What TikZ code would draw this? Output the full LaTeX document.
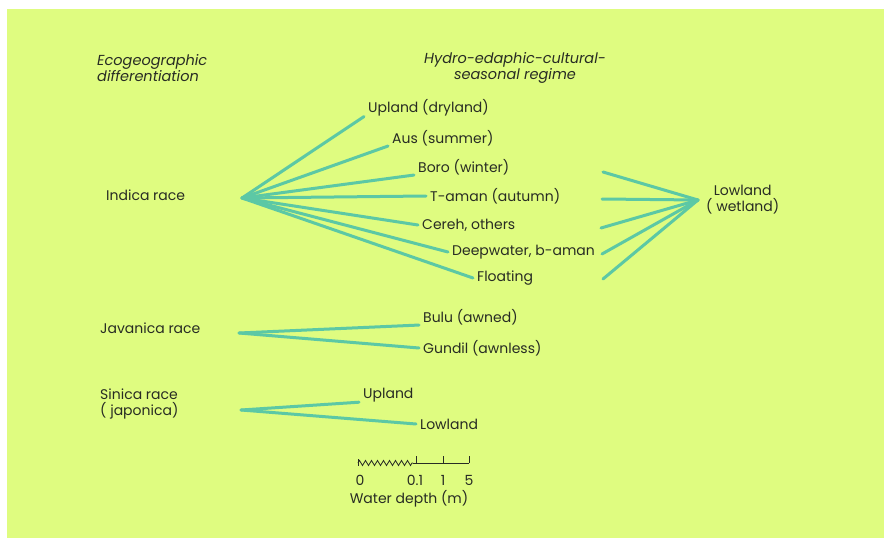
\documentclass[tikz,border=0pt]{standalone}
\usepackage{fontspec}
\setmainfont{Poppins}
\usetikzlibrary{decorations.pathmorphing}
\definecolor{fondo}{RGB}{223,252,128}
\definecolor{rama}{RGB}{92,200,165}
\definecolor{letra}{RGB}{40,44,36}
\begin{document}
\begin{tikzpicture}[x=1pt,y=-1pt,
		rama/.style={draw=rama, line width=3pt, line cap=round},
		etiq/.style={anchor=west, inner xsep=4pt, inner ysep=0pt, text=letra, font=\fontsize{14}{16}\selectfont},
		titulo/.style={inner sep=0pt, text=letra, font=\fontsize{14.5}{16}\selectfont\itshape},
		cifra/.style={inner sep=0pt, text=letra, font=\fontsize{14}{16}\selectfont},
		escala/.style={draw=letra, line width=0.8pt}]
			% Fondo
				\useasboundingbox (0,0) rectangle (884,538);
				\fill[white] (0,0) rectangle (884,538);
				\fill[fondo] (7,9) rectangle (884,538);
			
			% Titulos
				\node[titulo, anchor=west, align=left] (eco) at (97,68) {Ecogeographic\\differentiation};
				\node[titulo, align=center] (hyd) at (515,68) {Hydro-edaphic-cultural-\\seasonal regime};
			
			% Razas
				\node[etiq] (indica) at (102,195) {Indica race};
				\node[etiq] (javanica) at (96,328) {Javanica race};
				\node[etiq, align=left] (sinica) at (96,404) {Sinica race\\( japonica)};
				\coordinate (ind) at (242,198);
				\coordinate (jav) at (239,333);
				\coordinate (sin) at (241,410);
			
			% Regimenes indica
				\node[etiq] (upl) at (364,108) {Upland (dryland)};
				\node[etiq] (aus) at (388,138) {Aus (summer)};
				\node[etiq] (bor) at (414,167) {Boro (winter)};
				\node[etiq] (tam) at (426,196) {T-aman (autumn)};
				\node[etiq] (cer) at (418,225) {Cereh, others};
				\node[etiq] (dee) at (448,252) {Deepwater, b-aman};
				\node[etiq] (flo) at (473,278) {Floating};
				\foreach \r in {upl,aus,bor}
					\draw[rama] (ind) -- (\r.south west);
				\foreach \r in {tam,cer,dee,flo}
					\draw[rama] (ind) -- (\r.west);
			
			% Lowland
				\node[etiq, inner xsep=8pt, align=center] (low) at (698,200) {Lowland\\( wetland)};
				\coordinate (b1) at (603,172);
				\coordinate (b2) at (602,199);
				\coordinate (b3) at (601,228);
				\coordinate (b4) at (602,254);
				\coordinate (b5) at (603,279);
				\foreach \b in {b1,b2,b3,b4,b5}
					\draw[rama] (\b) -- (low.west);
			
			% Javanica y sinica
				\node[etiq] (bul) at (419,317) {Bulu (awned)};
				\node[etiq] (gun) at (419,348) {Gundil (awnless)};
				\node[etiq] (sup) at (359,395) {Upland};
				\node[etiq] (slo) at (416,424) {Lowland};
				\draw[rama] (jav) -- (bul.south west);
				\draw[rama] (jav) -- (gun.west);
				\draw[rama] (sin) -- (sup.south west);
				\draw[rama] (sin) -- (slo.west);
			
			% Escala de profundidad
				\draw[escala] (358,459) -- (358,466);
				\draw[escala, decorate, decoration={zigzag, segment length=6pt, amplitude=2.5pt}] (358,463) -- (413,463);
				\draw[escala] (413,463) -- (469,463);
				\foreach \x in {416,443,469}
					\draw[escala] (\x,463) -- (\x,456);
				\node[cifra] (p0) at (360,480) {0};
				\node[cifra] (p1) at (415,480) {0.1};
				\node[cifra] (p2) at (443,480) {1};
				\node[cifra] (p3) at (469,480) {5};
				\node[cifra] (wd) at (409,499) {Water depth (m)};
		\end{tikzpicture}
\end{document}
